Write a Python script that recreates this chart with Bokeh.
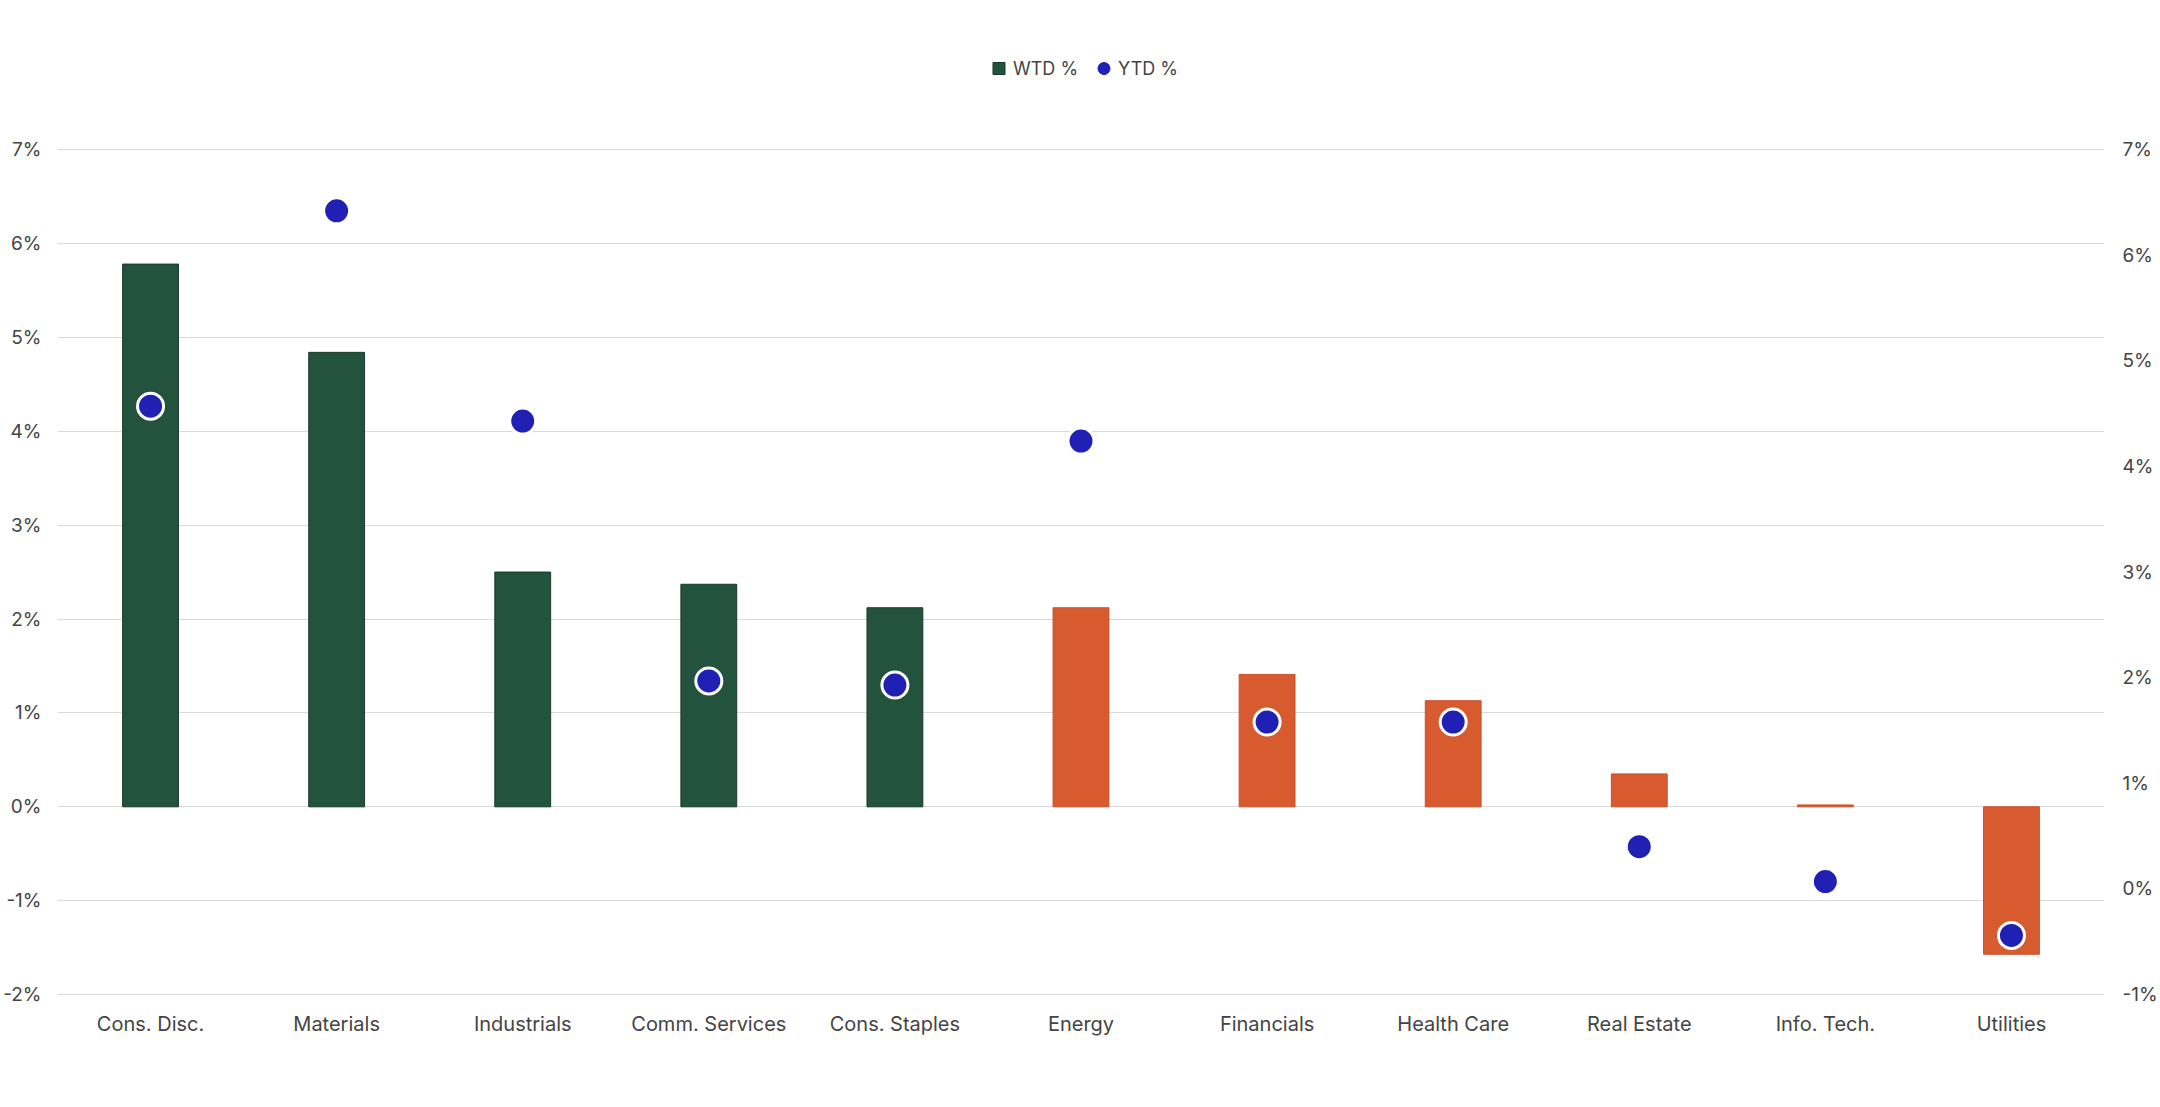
from bokeh.plotting import figure
from bokeh.models import (ColumnDataSource, Range1d, LinearAxis, FixedTicker,
                          PrintfTickFormatter, Legend, LegendItem, FactorRange)
from bokeh.embed import file_html
from bokeh.resources import INLINE

categories = ["Cons. Disc.", "Materials", "Industrials", "Comm. Services", "Cons. Staples",
              "Energy", "Financials", "Health Care", "Real Estate", "Info. Tech.", "Utilities"]
wtd = [5.78, 4.84, 2.50, 2.37, 2.12, 2.12, 1.41, 1.13, 0.35, 0.02, -1.57]
ytd = [4.57, 6.42, 4.43, 1.97, 1.93, 4.24, 1.58, 1.58, 0.40, 0.07, -0.44]
left_ticks = [-2, -1, 0, 1, 2, 3, 4, 5, 6, 7]
right_ticks = [-1, 0, 1, 2, 3, 4, 5, 6, 7]

GREEN = "#23533c"
GREEN_EDGE = "#163a28"
ORANGE = "#d85b30"
ORANGE_EDGE = "#c94f27"
BLUE = "#2020b4"
bar_fill = [GREEN] * 5 + [ORANGE] * 6
bar_edge = [GREEN_EDGE] * 5 + [ORANGE_EDGE] * 6

FONT = "Inter"
TXT = "#444444"

src = ColumnDataSource(dict(cat=categories, wtd=wtd, ytd=ytd, fill=bar_fill, edge=bar_edge))

# layout: the frame reaches up to the legend, grid/ticks only span the tick values
W, H = 2160, 1100
B_TOP, B_BOT, B_LEFT, B_RIGHT = 8, 104, 57, 55
PPU = 93.9                      # pixels per 1% on the left axis
pad = 0.02
lo, hi = min(left_ticks), max(left_ticks)
rlo, rhi = min(right_ticks), max(right_ticks)
k = (rhi - rlo) / (hi - lo)     # right units per left unit
frame_h = H - B_TOP - B_BOT
y0 = lo - pad
y1 = y0 + frame_h / PPU
r0 = rlo + (y0 - lo) * k
r1 = rlo + (y1 - lo) * k

p = figure(x_range=FactorRange(*categories), y_range=Range1d(y0, y1),
           width=W, height=H, output_backend="svg", toolbar_location=None,
           min_border_left=B_LEFT, min_border_right=B_RIGHT,
           min_border_top=B_TOP, min_border_bottom=B_BOT)
p.extra_y_ranges = {"ytd": Range1d(r0, r1)}
p.outline_line_color = None
p.background_fill_color = "white"
p.border_fill_color = "white"

p.xgrid.grid_line_color = None
p.ygrid.ticker = FixedTicker(ticks=left_ticks)
p.ygrid.grid_line_color = "#d9d9d9"
p.ygrid.grid_line_width = 1

p.yaxis.ticker = FixedTicker(ticks=left_ticks)
p.yaxis.formatter = PrintfTickFormatter(format="%d%%")

right = LinearAxis(y_range_name="ytd", ticker=FixedTicker(ticks=right_ticks),
                   formatter=PrintfTickFormatter(format="%d%%"))
p.add_layout(right, "right")

for ax in [p.xaxis[0], p.yaxis[0], right]:
    ax.axis_line_color = None
    ax.major_tick_line_color = None
    ax.minor_tick_line_color = None
    ax.major_tick_out = 0
    ax.major_tick_in = 0
    ax.minor_tick_out = 0
    ax.minor_tick_in = 0
    ax.major_label_text_font = FONT
    ax.major_label_text_color = TXT
p.xaxis[0].major_label_text_font_size = "20px"
p.yaxis[0].major_label_text_font_size = "19px"
right.major_label_text_font_size = "19px"
p.yaxis[0].major_label_standoff = 16
right.major_label_standoff = 18
p.xaxis[0].major_label_standoff = 15

p.vbar(x="cat", top="wtd", bottom=0, width=0.3, fill_color="fill", line_color="edge",
       line_width=1, source=src)
p.scatter(x="cat", y="ytd", y_range_name="ytd", size=26, fill_color=BLUE,
          line_color="white", line_width=3, source=src)

# legend-only renderers (one point with no value, so nothing is drawn in the plot)
nan = float("nan")
leg_sq = p.scatter(x=[categories[0]], y=[nan], marker="square", fill_color=GREEN,
                   line_color=GREEN_EDGE)
leg_ci = p.scatter(x=[categories[0]], y=[nan], marker="circle", fill_color=BLUE,
                   line_color=BLUE)

legend = Legend(items=[LegendItem(label="WTD %", renderers=[leg_sq]),
                       LegendItem(label="YTD %", renderers=[leg_ci])],
                orientation="horizontal", location="top_center",
                glyph_width=30, glyph_height=30, label_standoff=0, spacing=10,
                padding=0, margin=45, border_line_color=None, background_fill_alpha=0,
                label_text_font=FONT, label_text_font_size="18px", label_text_color=TXT)
p.add_layout(legend)

open("out.html", "w").write(file_html(p, INLINE))
